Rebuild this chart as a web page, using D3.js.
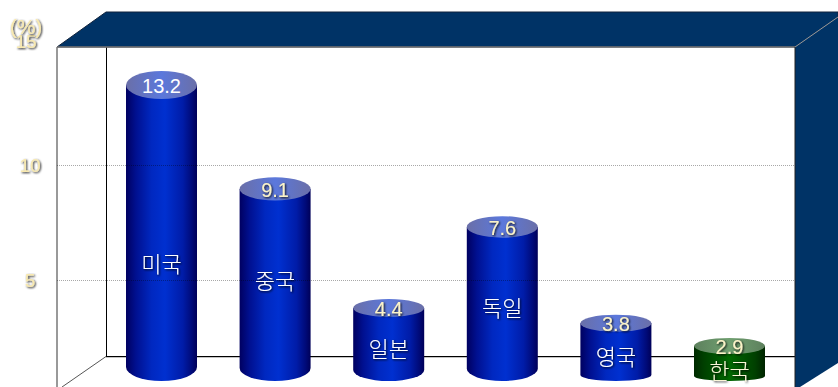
<!DOCTYPE html>
<html lang="ko">
<head>
<meta charset="utf-8">
<script src="https://cdn.jsdelivr.net/npm/d3@7/dist/d3.min.js"></script>
<style>
  html, body { margin: 0; padding: 0; background: #fff; }
  svg { display: block; }
  .tick-label { font-family: "Liberation Sans", Arial, sans-serif; }
  .korean { font-family: "Noto Sans CJK KR", "Noto Sans", sans-serif; font-weight: 300; }
</style>
</head>
<body>
<svg id="chart" width="838" height="387"></svg>
<script>
// Chart values
const countries = ["미국", "중국", "일본", "독일", "영국", "한국"];
const shares = [13.2, 9.1, 4.4, 7.6, 3.8, 2.9];
const axisTicks = [5, 10, 15];
const unitLabel = "(%)";
const highlighted = "한국";

// Room geometry (front plane and receding back plane)
const W = 838, H = 387;
const front = { left: 57, right: 795, top: 47 };
const back = { left: 106, top: 12, floor: 356.5 };
const barFoot = 381, barRx = 35.5;

const svg = d3.select("#chart").attr("viewBox", `0 0 ${W} ${H}`);
const defs = svg.append("defs");

// Axis scale on the front plane, column scale at mid depth
const axisY = d3.scaleLinear().domain([0, 15]).range([395, 50]);
const barY = d3.scaleLinear().domain([2.9, 13.2]).range([346, 85]);
const barX = d3.scalePoint().domain(countries).range([161.5, 729.5]);

// Cap and base flattening grow with the column's height
const capRy = d3.scaleLinear().domain([2.9, 13.2]).range([8, 14]);
const baseRy = d3.scaleLinear().domain([2.9, 3.8, 4.4, 9.1, 13.2]).range([5, 6, 11, 13, 14]);
// Country name placement along each column
const nameY = d3.scaleLinear().domain([2.9, 3.8, 4.4, 7.6, 9.1, 13.2]).range([371, 357, 349, 308, 281, 264]);

function hGradient(id, stops) {
  const g = defs.append("linearGradient").attr("id", id)
    .attr("x1", "0").attr("x2", "1").attr("y1", "0").attr("y2", "0");
  stops.forEach(([o, c]) => g.append("stop").attr("offset", o).attr("stop-color", c));
}
hGradient("blueSide", [[0, "#000060"], [0.14, "#001090"], [0.36, "#0028c0"], [0.55, "#0030d0"], [0.8, "#001ca8"], [0.93, "#000a78"], [1, "#000058"]]);
hGradient("blueCap", [[0, "#6a6fa8"], [0.5, "#5b78dc"], [1, "#6a6fa8"]]);
hGradient("greenSide", [[0, "#002a00"], [0.14, "#004000"], [0.5, "#006800"], [0.86, "#004000"], [1, "#002400"]]);
hGradient("greenCap", [[0, "#5d805d"], [0.5, "#70a070"], [1, "#5d805d"]]);

const shadow = defs.append("filter").attr("id", "textShadow")
  .attr("x", "-20%").attr("y", "-20%").attr("width", "150%").attr("height", "150%");
shadow.append("feDropShadow").attr("dx", 1).attr("dy", 1).attr("stdDeviation", 0.8)
  .attr("flood-color", "#111").attr("flood-opacity", 0.95);

const navy = "#003366";
const polyLine = d3.line();

// Top band and right wall
svg.append("path")
  .attr("d", polyLine([[front.left, front.top], [back.left, back.top], [W, back.top], [W, 17], [front.right, front.top]]) + "Z")
  .attr("fill", navy).attr("stroke", "#10233c").attr("stroke-width", 1);
svg.append("path")
  .attr("d", polyLine([[front.right, front.top], [W, 17], [W, 363], [800, H], [front.right, H]]) + "Z")
  .attr("fill", navy);

// Room edges
const edge = (a, b, color, width) => svg.append("line")
  .attr("x1", a[0]).attr("y1", a[1]).attr("x2", b[0]).attr("y2", b[1])
  .attr("stroke", color).attr("stroke-width", width);
edge([back.left + 0.5, front.top], [back.left + 0.5, back.floor], "#000", 1);
edge([back.left, back.floor + 1], [front.right, back.floor + 1], "#c4c4c4", 1);
edge([back.left, back.floor], [front.right, back.floor], "#000", 1);
edge([back.left, back.floor], [62, H], "#555", 1);
edge([front.left, front.top], [front.left, H], "#777", 1.5);
edge([front.left, front.top], [front.right, front.top], "#777", 1.5);
edge([front.right, front.top], [W, 17], "#999", 1);
edge([front.right, front.top], [front.right, H], "#222", 1);

// Columns
const bars = svg.append("g").selectAll("g")
  .data(countries.map((name, i) => ({ name, value: shares[i] })))
  .join("g")
  .attr("transform", d => `translate(${barX(d.name)},0)`);

const tone = d => (d.name === highlighted ? "green" : "blue");

bars.append("path")
  .attr("d", d => {
    const top = barY(d.value), ryB = baseRy(d.value), yB = barFoot - ryB;
    return `M${-barRx},${top}L${-barRx},${yB}A${barRx},${ryB} 0 0 0 ${barRx},${yB}L${barRx},${top}Z`;
  })
  .attr("fill", d => `url(#${tone(d)}Side)`);

bars.append("ellipse")
  .attr("cx", 0)
  .attr("cy", d => barY(d.value))
  .attr("rx", barRx)
  .attr("ry", d => capRy(d.value))
  .attr("fill", d => `url(#${tone(d)}Cap)`);

// Dotted gridlines lie over the columns and darken them
svg.append("g")
  .attr("transform", `translate(${front.left},0)`)
  .style("mix-blend-mode", "multiply")
  .call(d3.axisLeft(axisY).tickValues(axisTicks.filter(t => t < 15))
    .tickSize(-(front.right - front.left)).tickFormat(""))
  .call(g => g.select(".domain").remove())
  .call(g => g.selectAll("line").attr("stroke", "#a8a8a8").attr("stroke-dasharray", "1 1"));

// Value axis labels
svg.append("g")
  .attr("transform", "translate(30,0)")
  .call(d3.axisLeft(axisY).tickValues(axisTicks).tickSize(0).tickPadding(0))
  .call(g => g.select(".domain").remove())
  .call(g => g.selectAll("text")
    .attr("class", "tick-label")
    .attr("text-anchor", "middle")
    .attr("x", d => (d === 15 ? -4 : 0))
    .attr("dy", d => (d === 15 ? "-0.13em" : "0.35em"))
    .attr("font-size", 19)
    .attr("fill", "#f8e9b0")
    .attr("filter", "url(#textShadow)"));

svg.append("text")
  .attr("class", "tick-label")
  .attr("x", 26).attr("y", 34)
  .attr("text-anchor", "middle")
  .attr("font-size", 21)
  .attr("fill", "#f8e9b0")
  .attr("filter", "url(#textShadow)")
  .text(unitLabel);

// Value on each cap, country name on each shaft
bars.append("text")
  .attr("class", "tick-label")
  .attr("y", d => barY(d.value) + 1)
  .attr("dy", "0.35em")
  .attr("text-anchor", "middle")
  .attr("font-size", 20)
  .attr("fill", d => (d.value > 10 ? "#ffffff" : "#fbf3c8"))
  .attr("filter", d => (d.value > 10 ? null : "url(#textShadow)"))
  .text(d => d3.format(".1f")(d.value));

bars.append("text")
  .attr("class", "korean")
  .attr("y", d => nameY(d.value))
  .attr("dy", "0.36em")
  .attr("text-anchor", "middle")
  .attr("font-size", 22)
  .attr("fill", d => (d.name === highlighted ? "#fbf6d8" : "#ffffff"))
  .attr("filter", "url(#textShadow)")
  .text(d => d.name);
</script>
</body>
</html>
